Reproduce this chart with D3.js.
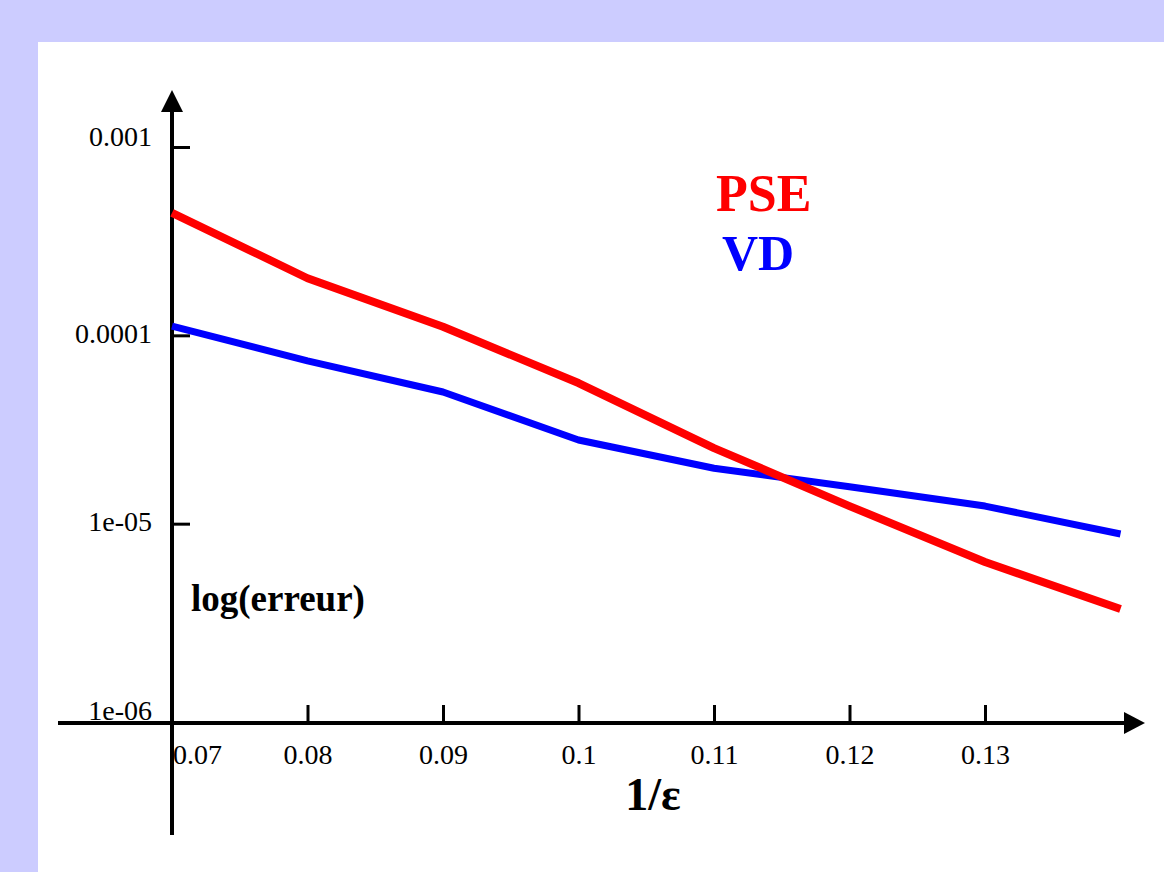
<!DOCTYPE html>
<html>
<head>
<meta charset="utf-8">
<script src="https://cdn.jsdelivr.net/npm/d3@7"></script>
<style>
  body { margin: 0; padding: 0; background: #ccccff; }
  svg { display: block; }
</style>
</head>
<body>
<div id="chart"></div>
<script>
//Data
const xValues = [0.07, 0.08, 0.09, 0.1, 0.11, 0.12, 0.13, 0.14];
const pseValues = [4.47e-4, 2.01e-4, 1.11e-4, 5.58e-5, 2.52e-5, 1.24e-5, 6.26e-6, 3.52e-6];
const vdValues = [1.12e-4, 7.31e-5, 5.00e-5, 2.78e-5, 1.97e-5, 1.57e-5, 1.24e-5, 8.81e-6];
const xTicks = [0.07, 0.08, 0.09, 0.1, 0.11, 0.12, 0.13];
const yTicks = [1e-3, 1e-4, 1e-5, 1e-6];
const yTickLabels = ["0.001", "0.0001", "1e-05", "1e-06"];

const W = 1164, H = 872;
const originX = 172, axisY = 723;

const svg = d3.select("#chart")
    .append("svg")
    .attr("width", W)
    .attr("height", H);

//Lavender frame and white panel
svg.append("rect").attr("width", W).attr("height", H).attr("fill", "#ccccff");
svg.append("rect")
    .attr("x", 38).attr("y", 42)
    .attr("width", W - 38).attr("height", H - 42)
    .attr("fill", "#ffffff");

//Scales
const x = d3.scaleLinear().domain([0.07, 0.13]).range([originX, 985]);
const y = d3.scaleLog().domain([1e-6, 1e-3]).range([712, 147]);

const font = "'Liberation Serif', 'Times New Roman', serif";

//Y axis ticks and labels
const yAxis = svg.append("g")
    .attr("transform", `translate(${originX}, 0)`)
    .call(d3.axisRight(y)
        .tickValues(yTicks)
        .tickSize(18)
        .tickFormat((d, i) => yTickLabels[i]));
yAxis.select(".domain").remove();
yAxis.selectAll(".tick line").attr("stroke", "#000").attr("stroke-width", 3);
//bottom tick is hidden by the horizontal axis in the original
yAxis.selectAll(".tick line").filter(d => d === 1e-6).remove();
yAxis.selectAll(".tick text")
    .attr("x", -20)
    .attr("dy", "0.25em")
    .attr("text-anchor", "end")
    .style("font-family", font)
    .style("font-size", "28px")
    .attr("fill", "#000");
yAxis.selectAll(".tick text").filter(d => d === 1e-3).attr("dy", "-0.05em");

//X axis ticks and labels
const xAxis = svg.append("g")
    .attr("transform", `translate(0, ${axisY})`)
    .call(d3.axisBottom(x)
        .tickValues(xTicks)
        .tickSize(-18)
        .tickPadding(21)
        .tickFormat(d3.format("~g")));
xAxis.select(".domain").remove();
xAxis.selectAll(".tick line").attr("stroke", "#000").attr("stroke-width", 3);
xAxis.selectAll(".tick text")
    .style("font-family", font)
    .style("font-size", "28px")
    .attr("fill", "#000");
//first label sits just right of the vertical axis
xAxis.selectAll(".tick text").filter(d => d === 0.07).attr("x", 25);

//Axis lines with arrow heads
svg.append("line")
    .attr("x1", 58).attr("x2", 1126)
    .attr("y1", axisY).attr("y2", axisY)
    .attr("stroke", "#000").attr("stroke-width", 4);
svg.append("path")
    .attr("d", `M1145,${axisY} L1124,${axisY - 11} L1124,${axisY + 11} Z`)
    .attr("fill", "#000");
svg.append("line")
    .attr("x1", originX).attr("x2", originX)
    .attr("y1", 835).attr("y2", 110)
    .attr("stroke", "#000").attr("stroke-width", 4);
svg.append("path")
    .attr("d", `M${originX},90 L${originX - 11},112 L${originX + 11},112 Z`)
    .attr("fill", "#000");

//Curves
const line = d3.line()
    .x(d => x(d[0]))
    .y(d => y(d[1]));

svg.append("path")
    .datum(d3.zip(xValues, vdValues))
    .attr("d", line)
    .attr("fill", "none")
    .attr("stroke", "#0000ff")
    .attr("stroke-width", 7)
    .attr("stroke-linejoin", "round");

svg.append("path")
    .datum(d3.zip(xValues, pseValues))
    .attr("d", line)
    .attr("fill", "none")
    .attr("stroke", "#ff0000")
    .attr("stroke-width", 8)
    .attr("stroke-linejoin", "round");

//Legend and axis titles
svg.append("text")
    .attr("x", 716).attr("y", 211)
    .style("font-family", font).style("font-weight", "bold").style("font-size", "52px")
    .attr("fill", "#ff0000")
    .text("PSE");
svg.append("text")
    .attr("x", 722).attr("y", 270)
    .style("font-family", font).style("font-weight", "bold").style("font-size", "50px")
    .attr("fill", "#0000ff")
    .text("VD");
svg.append("text")
    .attr("x", 191).attr("y", 611)
    .style("font-family", font).style("font-weight", "bold").style("font-size", "37px")
    .attr("fill", "#000")
    .text("log(erreur)");
svg.append("text")
    .attr("x", 653).attr("y", 810)
    .attr("text-anchor", "middle")
    .style("font-family", font).style("font-weight", "bold").style("font-size", "46px")
    .attr("fill", "#000")
    .text("1/ε");
</script>
</body>
</html>
